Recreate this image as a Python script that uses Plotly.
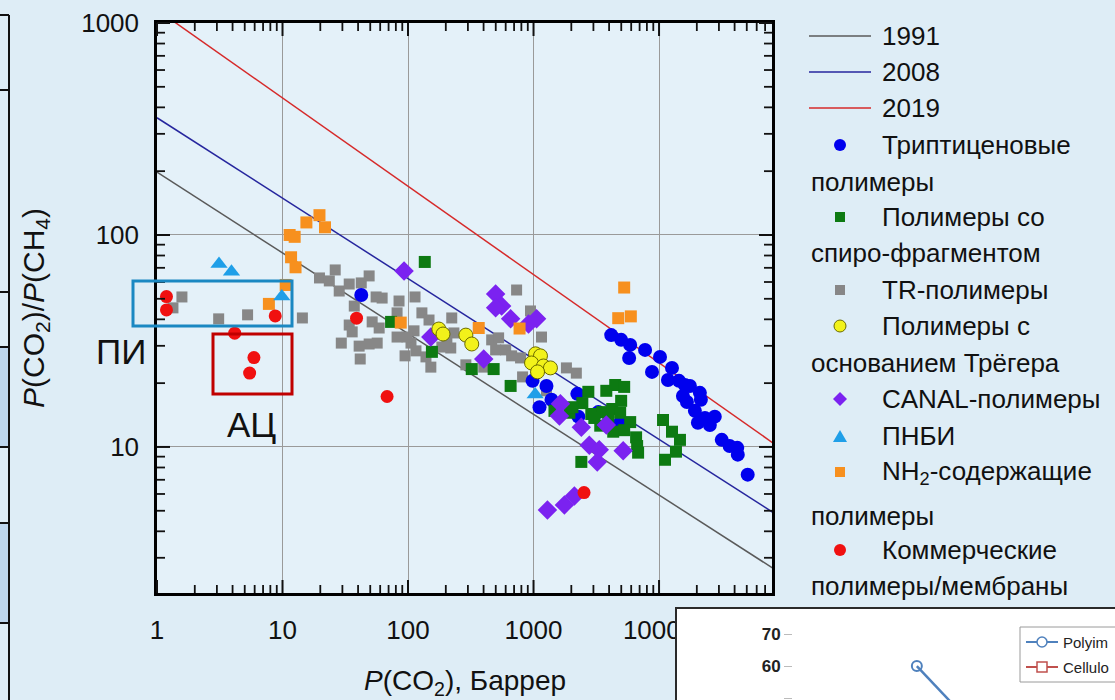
import numpy as np
import plotly.graph_objects as go

W, H = 1115, 700
FONT = "Liberation Sans, Arial, sans-serif"

# ---------------- data ----------------
# Robeson-type upper bounds for CO2/CH4:  P = k * alpha^n
bound_years = ["1991", "2008", "2019"]
bound_k = [1073700, 5369140, 22584000]
bound_n = [-2.6264, -2.636, -2.401]
bound_colors = ["#5a5a5a", "#26269e", "#d62a2a"]

tr_p = [1.58, 1.34, 3.10, 5.27, 14.4, 19.7, 23.6, 26.3, 28.3, 34.0, 42.4, 49.0, 55.7, 62.2,
        84.8, 113.7, 37.3, 34.0, 35.9, 29.4, 40.8, 49.0, 56.8, 41.6, 51.8, 58.9, 81.8, 81.8,
        94.7, 105.6, 111.6, 129, 147, 115.7, 139, 152, 98.2, 223, 232, 204, 219, 186, 289,
        401, 464, 527, 499, 600, 669, 788, 733, 946, 1157, 818, 1268, 1828, 2193]
tr_a = [51.0, 45.3, 40.2, 42.0, 40.6, 62.7, 60.7, 68.4, 54.4, 58.7, 59.4, 64.1, 51.0, 50.4,
        48.8, 51.0, 46.2, 37.6, 34.9, 30.9, 29.9, 30.6, 30.9, 26.0, 38.9, 36.4, 42.9, 33.0,
        26.9, 30.9, 35.3, 42.9, 39.7, 28.4, 26.6, 23.8, 33.0, 40.6, 34.5, 30.9, 29.3, 29.6, 24.4,
        23.8, 32.0, 32.7, 28.7, 28.7, 26.9, 26.3, 55.0, 43.8, 33.0, 21.4, 18.4, 23.6, 22.3]

trip_p = [42.4, 982, 1268, 1116, 1390, 2234, 2275, 3280, 4900, 4160, 4990, 5890, 5780, 7740,
          8790, 10180, 11780, 12680, 14420, 16080, 17620, 15500, 16680, 21150, 21550, 19300,
          20400, 23200, 25400, 27800, 31600, 36500, 42000, 42400, 50850]
trip_a = [52.1, 20.5, 19.4, 15.4, 16.7, 17.8, 13.9, 14.6, 13.0, 33.7, 32.0, 30.3, 26.3, 28.7,
          22.6, 26.6, 20.7, 23.6, 20.5, 19.6, 19.4, 17.4, 16.3, 18.0, 16.7, 14.8,
          13.0, 13.7, 12.7, 13.9, 10.8, 10.1, 9.9, 9.2, 7.4]

spiro_p = [136, 73.3, 155, 322, 481, 657, 2733, 3800, 4475, 5275, 1468, 1930, 2448, 2886, 3530,
           4235, 4900, 3400, 4315, 5890, 6565, 6690, 6810, 2404, 10760, 12680, 14680, 13640,
           11160, 2040, 4990, 3050, 3940, 5275]
spiro_a = [74.6, 38.9, 28.1, 23.3, 23.3, 19.4, 18.2, 18.4, 19.6, 19.2, 14.8, 14.5, 16.1, 14.3, 14.6,
           15.1, 14.5, 12.6, 11.8, 13.1, 11.1, 10.1, 9.4, 8.5, 13.4, 11.8, 10.8, 9.5,
           8.7, 15.4, 16.5, 13.7, 13.7, 12.0]

canal_p = [93.0, 152, 401, 499, 557, 499, 657, 912, 1057, 1637, 1608, 2404, 2782, 3340, 3220,
           3800, 5180, 1291, 1762, 2115]
canal_a = [67.6, 33.0, 26.0, 52.7, 46.2, 45.3, 40.2, 38.0, 40.2, 16.0, 14.0, 12.4, 10.2, 9.7, 8.5,
           12.7, 9.6, 5.04, 5.33, 5.87]

troger_p = [176, 190, 289, 322, 1037, 1136, 964, 1200, 1364, 1076]
troger_a = [36.0, 34.1, 33.7, 30.6, 27.5, 26.9, 24.9, 24.1, 23.6, 22.6]

pnbi_p = [3.12, 3.92, 9.87, 1031]
pnbi_a = [73.0, 67.1, 51.2, 17.7]

nh2_p = [7.79, 10.6, 11.7, 12.7, 11.4, 12.5, 15.5, 19.7, 21.8, 87.5, 366, 774, 5275, 4730, 5960]
nh2_a = [47.3, 58.1, 78.5, 70.4, 100, 98, 114.6, 124, 108.7, 38.6, 36.4, 36.2, 56.5, 40.5, 41.3]

comm_p = [1.19, 1.19, 8.75, 4.16, 5.92, 5.47, 38.9, 68.1, 2525]
comm_a = [51.2, 44.3, 41.5, 34.4, 26.4, 22.3, 40.5, 17.3, 6.09]

x_ticks = [1, 10, 100, 1000, 10000]
x_ticktext = ["1", "10", "100", "1000", "10000"]
y_ticks = [10, 100, 1000]
y_ticktext = ["10", "100", "1000"]
minor_mult = [2, 3, 4, 5, 6, 7, 8, 9]

# inset (partially visible second chart)
inset_x = [1, 2]
inset_polyimide = [60, 19]
inset_ticks = [50, 60, 70]

# ---------------- helpers ----------------
def px(x):
    return x / W


def py(y):
    return 1 - y / H


XDOM = [px(157), px(772)]
YDOM = [py(593), py(23)]
XR = [0, 4.90]
YR = [0.311, 3]

x_minor = [m * 10 ** d for d in range(0, 5) for m in minor_mult]
y_minor = [m * 10 ** d for d in range(0, 3) for m in minor_mult]

fig = go.Figure()

# upper-bound lines
P = np.logspace(0, 5, 60)
for yr, k, n, c in zip(bound_years, bound_k, bound_n, bound_colors):
    alpha = (P / k) ** (1.0 / n)
    fig.add_trace(go.Scatter(x=P, y=alpha, mode="lines", name=yr,
                             line=dict(color=c, width=1.5), hoverinfo="skip",
                             showlegend=False))

series = [
    ("TR-полимеры", tr_p, tr_a, "square", "#878787", 11, None),
    ("Триптиценовые полимеры", trip_p, trip_a, "circle", "#0000ee", 14, None),
    ("Полимеры со спиро-фрагментом", spiro_p, spiro_a, "square", "#0d7a12", 12, None),
    ("CANAL-полимеры", canal_p, canal_a, "diamond", "#7b22f0", 15, None),
    ("Полимеры с основанием Трёгера", troger_p, troger_a, "circle", "#f2f21a", 14, "#6b6b00"),
    ("NH2-содержащие полимеры", nh2_p, nh2_a, "square", "#f7901e", 12, None),
    ("ПНБИ", pnbi_p, pnbi_a, "triangle-up", "#1f9fe8", 15, None),
    ("Коммерческие полимеры/мембраны", comm_p, comm_a, "circle", "#f01010", 13, None),
]
for name, xs, ys, sym, col, size, edge in series:
    fig.add_trace(go.Scatter(
        x=xs, y=ys, mode="markers", name=name, showlegend=False,
        marker=dict(symbol=sym, color=col, size=size,
                    line=dict(color=edge if edge else col, width=1 if edge else 0))))

# inset trace
fig.add_trace(go.Scatter(x=inset_x, y=inset_polyimide, xaxis="x2", yaxis="y2",
                         mode="lines+markers", showlegend=False,
                         line=dict(color="#4f81bd", width=2.5),
                         marker=dict(symbol="circle-open", size=10, color="#4f81bd",
                                     line=dict(width=2))))

axis_common = dict(
    type="log", showline=True, linecolor="black", linewidth=2.5, mirror=True,
    ticks="", showgrid=True, gridcolor="#9a9a9a", gridwidth=1, zeroline=False,
    automargin=False,
    tickfont=dict(family=FONT, size=26, color="#111"),
)

fig.update_layout(
    width=W, height=H,
    margin=dict(l=0, r=0, t=0, b=0, pad=0, autoexpand=False),
    paper_bgcolor="#deedf6",
    plot_bgcolor="#e4f1f9",
    font=dict(family=FONT, color="#111"),
    xaxis=dict(domain=XDOM, range=XR, tickmode="array",
               tickvals=x_ticks, ticktext=x_ticktext, anchor="y",
               ticklabelstandoff=12, **axis_common),
    yaxis=dict(domain=YDOM, range=YR, tickmode="array",
               tickvals=y_ticks, ticktext=y_ticktext, anchor="x",
               ticklabelstandoff=10, **axis_common),
    xaxis2=dict(domain=[px(793), 1], range=[0, 2.6], visible=False, anchor="y2",
                automargin=False),
    yaxis2=dict(domain=[0, py(614)], range=[49.4, 76.25], anchor="x2",
                showgrid=False, zeroline=False, showline=False, automargin=False,
                tickmode="array", tickvals=inset_ticks,
                ticks="outside", ticklen=8, tickcolor="#bbbbbb",
                tickfont=dict(family=FONT, size=17, color="#222", weight="bold")),
)

shapes = []
annotations = []


def text(t, x, y, size, xanchor="center", yanchor="middle", **kw):
    annotations.append(dict(text=t, x=px(x), y=py(y), xref="paper", yref="paper",
                            xanchor=xanchor, yanchor=yanchor, showarrow=False,
                            font=dict(size=size, family=FONT, color="#111"), **kw))


# ---- tick marks on all four sides (inside), major and minor ----
def xfrac(v):
    return (np.log10(v) - XR[0]) / (XR[1] - XR[0])


def yfrac(v):
    return (np.log10(v) - YR[0]) / (YR[1] - YR[0])


def tick_x(v, length, width):
    f = xfrac(v)
    if f < 0 or f > 1:
        return
    for anchor, a, b in [(0, 0, length), (1, -length, 0)]:
        shapes.append(dict(type="line", xref="x domain", yref="y domain",
                           x0=f, x1=f, ysizemode="pixel", yanchor=anchor, y0=a, y1=b,
                           line=dict(color="#111", width=width)))


def tick_y(v, length, width):
    f = yfrac(v)
    if f < 0 or f > 1:
        return
    for anchor, a, b in [(0, 0, length), (1, -length, 0)]:
        shapes.append(dict(type="line", xref="x domain", yref="y domain",
                           y0=f, y1=f, xsizemode="pixel", xanchor=anchor, x0=a, x1=b,
                           line=dict(color="#111", width=width)))


for v in x_ticks:
    tick_x(v, 13, 2)
for v in x_minor:
    tick_x(v, 8, 1.8)
for v in y_ticks:
    tick_y(v, 13, 2)
for v in y_minor:
    tick_y(v, 8, 1.8)

# PI / AC boxes
shapes.append(dict(type="rect", xref="paper", yref="paper", x0=px(133), x1=px(292),
                   y0=py(326), y1=py(281), line=dict(color="#1a88c2", width=3),
                   layer="above"))
shapes.append(dict(type="rect", xref="paper", yref="paper", x0=px(213), x1=px(292),
                   y0=py(394), y1=py(334), line=dict(color="#c00000", width=3),
                   layer="above"))
text("ПИ", 121, 351, 35)
text("АЦ", 251, 424, 35)

# axis titles
text("<i>P</i>(CO<sub>2</sub>), Баррер", 465, 682, 28)
text("<i>P</i>(CO<sub>2</sub>)/<i>P</i>(CH<sub>4</sub>)", 36, 308, 30, textangle=-90)

# ---- custom legend ----
LFS = 26
for yr, c, ypx in zip(bound_years, bound_colors, [36, 72, 108]):
    shapes.append(dict(type="line", xref="paper", yref="paper", x0=px(809), x1=px(871),
                       y0=py(ypx), y1=py(ypx), line=dict(color=c, width=1.6)))
    text(yr, 880, ypx, LFS, xanchor="left")

legend_rows = [
    (145, "circle", "#0000ee", None, "Триптиценовые", "полимеры", 182),
    (217, "square", "#0d7a12", None, "Полимеры со", "спиро-фрагментом", 253),
    (290, "square", "#878787", None, "TR-полимеры", None, None),
    (326, "circle", "#f2f21a", "#6b6b00", "Полимеры с", "основанием Трёгера", 363),
    (399, "diamond", "#7b22f0", None, "CANAL-полимеры", None, None),
    (436, "triangle", "#1f9fe8", None, "ПНБИ", None, None),
    (472, "square", "#f7901e", None, "NH<sub>2</sub>-содержащие", "полимеры", 516),
    (550, "circle", "#f01010", None, "Коммерческие", "полимеры/мембраны", 586),
]
for ypx, sym, col, edge, t1, t2, y2 in legend_rows:
    base = dict(xref="paper", yref="paper", xsizemode="pixel", ysizemode="pixel",
                xanchor=px(840), yanchor=py(ypx), fillcolor=col,
                line=dict(color=edge if edge else col, width=1 if edge else 0))
    if sym == "circle":
        shapes.append(dict(type="circle", x0=-6, x1=6, y0=-6, y1=6, **base))
    elif sym == "square":
        shapes.append(dict(type="rect", x0=-5, x1=5, y0=-5, y1=5, **base))
    elif sym == "diamond":
        shapes.append(dict(type="path", path="M 0,7 L 7,0 L 0,-7 L -7,0 Z", **base))
    elif sym == "triangle":
        shapes.append(dict(type="path", path="M -7,-6 L 7,-6 L 0,6 Z", **base))
    text(t1, 880, ypx, LFS, xanchor="left")
    if t2:
        text(t2, 809, y2, LFS, xanchor="left")

# ---- left strip (table edge from the slide) ----
for y0, y1 in [(347, 447), (523, 623)]:
    shapes.append(dict(type="rect", xref="paper", yref="paper", x0=0, x1=px(9),
                       y0=py(y1), y1=py(y0), fillcolor="#bcd5ec", line=dict(width=0),
                       layer="below"))
shapes.append(dict(type="line", xref="paper", yref="paper", x0=px(9), x1=px(9),
                   y0=0, y1=py(15), line=dict(color="#111", width=2)))
for ypx in [15, 90, 292, 347, 447, 523, 623]:
    shapes.append(dict(type="line", xref="paper", yref="paper", x0=0, x1=px(9),
                       y0=py(ypx), y1=py(ypx), line=dict(color="#111", width=2)))

# ---- inset frame ----
shapes.append(dict(type="rect", xref="paper", yref="paper", x0=px(676), x1=1.01,
                   y0=-0.01, y1=py(608), fillcolor="white", line=dict(width=0),
                   layer="below"))
shapes.append(dict(type="rect", xref="x2 domain", yref="y2 domain", x0=0, x1=1,
                   y0=0, y1=1, fillcolor="white", line=dict(width=0), layer="below"))
shapes.append(dict(type="rect", xref="paper", yref="paper", x0=px(676), x1=px(745),
                   y0=-0.01, y1=py(608), fillcolor="white", line=dict(width=0),
                   layer="above"))
shapes.append(dict(type="rect", xref="paper", yref="paper", x0=px(676), x1=1.02,
                   y0=-0.02, y1=py(608), line=dict(color="#2a2a2a", width=2),
                   layer="above"))
# inset legend
shapes.append(dict(type="rect", xref="paper", yref="paper", x0=px(1020), x1=1.02,
                   y0=py(682), y1=py(627), fillcolor="white",
                   line=dict(color="#9a9a9a", width=1), layer="above"))
for ypx, col, sym, label in [(642, "#4f81bd", "circle", "Polyim"),
                             (667, "#c0504d", "rect", "Cellulo")]:
    shapes.append(dict(type="line", xref="paper", yref="paper", x0=px(1026), x1=px(1058),
                       y0=py(ypx), y1=py(ypx), line=dict(color=col, width=2), layer="above"))
    shapes.append(dict(type=sym, xref="paper", yref="paper", xsizemode="pixel",
                       ysizemode="pixel", xanchor=px(1042), yanchor=py(ypx),
                       x0=-5, x1=5, y0=-5, y1=5, fillcolor="white",
                       line=dict(color=col, width=1.5), layer="above"))
    annotations.append(dict(text=label, x=px(1061), y=py(ypx), xref="paper", yref="paper",
                            xanchor="left", yanchor="middle", showarrow=False,
                            font=dict(size=15, family=FONT, color="#222")))

fig.update_layout(shapes=shapes, annotations=annotations)
fig.write_html("out.html")
